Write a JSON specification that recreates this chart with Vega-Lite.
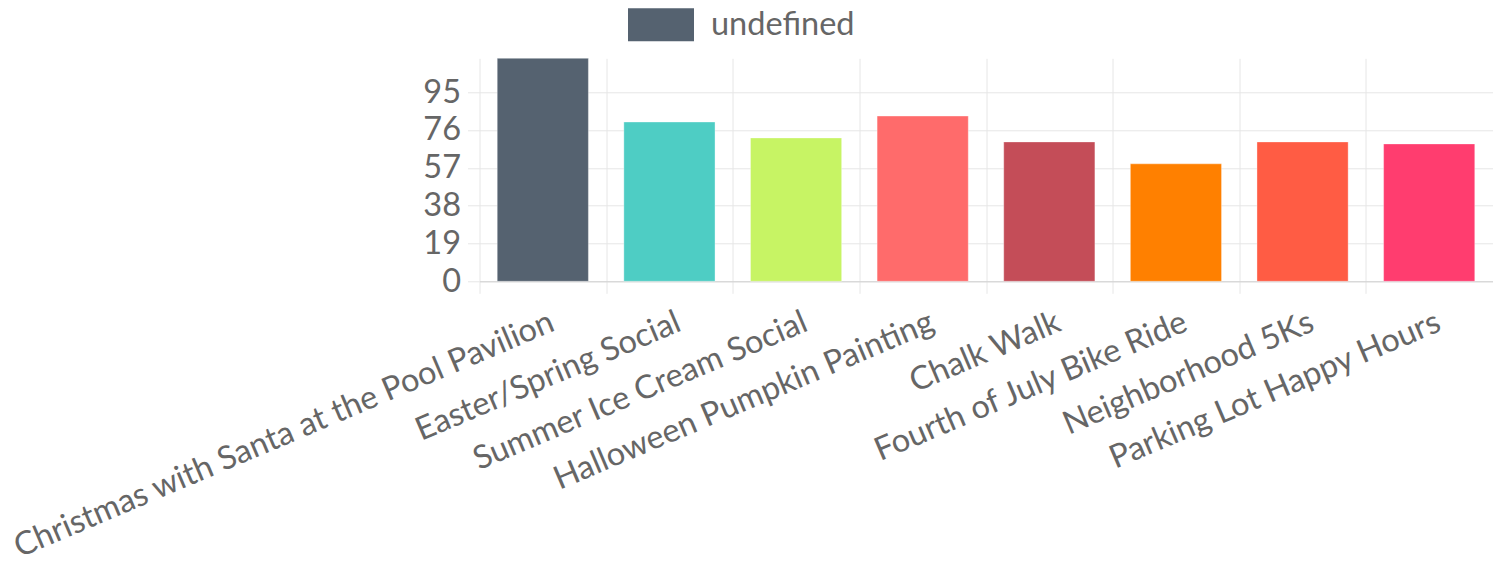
{
  "$schema": "https://vega.github.io/schema/vega-lite/v6.json",
  "width": 1013,
  "height": 223,
  "autosize": {"type": "none"},
  "padding": {"left": 479.5, "top": 58.3, "right": 5.5, "bottom": 280.7},
  "background": "white",
  "config": {"font": "Lato", "view": {"stroke": null}},
  "data": {
    "values": [
      {"event": "Christmas with Santa at the Pool Pavilion", "value": 112},
      {"event": "Easter/Spring Social", "value": 80},
      {"event": "Summer Ice Cream Social", "value": 72},
      {"event": "Halloween Pumpkin Painting", "value": 83},
      {"event": "Chalk Walk", "value": 70},
      {"event": "Fourth of July Bike Ride", "value": 59},
      {"event": "Neighborhood 5Ks", "value": 70},
      {"event": "Parking Lot Happy Hours", "value": 69}
    ]
  },
  "mark": {"type": "bar", "stroke": "white", "strokeOpacity": 0.35, "strokeWidth": 1},
  "encoding": {
    "x": {
      "field": "event",
      "type": "nominal",
      "sort": null,
      "scale": {"paddingInner": 0.28, "paddingOuter": 0.14},
      "axis": {
        "title": null,
        "bandPosition": 0,
        "tickOffset": -17.7,
        "grid": true,
        "gridColor": "#e6e6e6",
        "tickColor": "#e6e6e6",
        "tickSize": 12,
        "domainColor": "#d0d0d0",
        "labelOffset": 26.7,
        "labelAngle": -23,
        "labelAlign": "right",
        "labelBaseline": "middle",
        "labelFontSize": 32.5,
        "labelColor": "#666666",
        "labelPadding": 27,
        "labelLimit": 2000,
        "labelOverlap": false,
        "labelBound": false,
        "labelFlush": false
      }
    },
    "y": {
      "field": "value",
      "type": "quantitative",
      "scale": {"domain": [0, 112], "nice": false},
      "axis": {
        "title": null,
        "values": [0, 19, 38, 57, 76, 95],
        "grid": true,
        "gridColor": "#e6e6e6",
        "tickColor": "#e6e6e6",
        "tickSize": 12,
        "domain": false,
        "labelFontSize": 32.5,
        "labelColor": "#666666",
        "labelPadding": 7
      }
    },
    "fill": {
      "field": "event",
      "type": "nominal",
      "sort": null,
      "scale": {"range": ["#556270", "#4ECDC4", "#C7F464", "#FF6B6B", "#C44D58", "#FF8000", "#FF5C44", "#FF3D6F"]},
      "legend": {
        "title": null,
        "orient": "none",
        "legendX": 148.5,
        "legendY": -66.5,
        "padding": 0,
        "values": ["Christmas with Santa at the Pool Pavilion"],
        "labelExpr": "'undefined'",
        "symbolType": "M-1,-0.5H1V0.5H-1Z",
        "symbolSize": 4356,
        "symbolStrokeWidth": 0,
        "symbolOpacity": 1,
        "symbolOffset": 0,
        "labelOffset": 17,
        "labelFontSize": 32.5,
        "labelColor": "#666666",
        "labelLimit": 1000
      }
    }
  }
}
